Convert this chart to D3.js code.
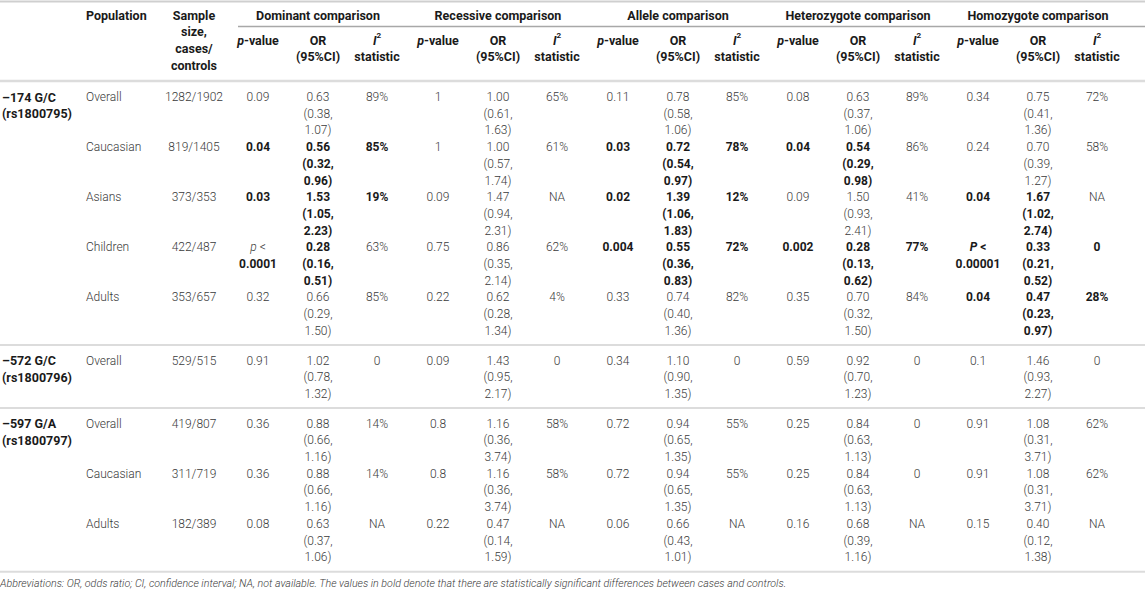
<!DOCTYPE html>
<html>
<head>
<meta charset="utf-8">
<script src="https://cdn.jsdelivr.net/npm/d3@7"></script>
<style>
  body { margin: 0; background: #fff; }
  svg { display: block; }
  text { font-family: Roboto, "Liberation Sans", sans-serif; }
</style>
</head>
<body>
<script>
// table content
var snpLabels = [["–174 G/C", "(rs1800795)"], ["–572 G/C", "(rs1800796)"], ["–597 G/A", "(rs1800797)"]];
var snpRowCount = [5, 1, 3];
var populations = ["Overall", "Caucasian", "Asians", "Children", "Adults", "Overall", "Overall", "Caucasian", "Adults"];
var sampleSizes = ["1282/1902", "819/1405", "373/353", "422/487", "353/657", "529/515", "419/807", "311/719", "182/389"];
var comparisons = ["Dominant comparison", "Recessive comparison", "Allele comparison", "Heterozygote comparison", "Homozygote comparison"];

var dominantP = ["0.09", "0.04", "0.03", "p < 0.0001", "0.32", "0.91", "0.36", "0.36", "0.08"];
var dominantOR = [[0.63, 0.38, 1.07], [0.56, 0.32, 0.96], [1.53, 1.05, 2.23], [0.28, 0.16, 0.51], [0.66, 0.29, 1.50], [1.02, 0.78, 1.32], [0.88, 0.66, 1.16], [0.88, 0.66, 1.16], [0.63, 0.37, 1.06]];
var dominantI2 = ["89%", "85%", "19%", "63%", "85%", "0", "14%", "14%", "NA"];
var dominantBold = [[0, 0, 0], [1, 1, 1], [1, 1, 1], [1, 1, 0], [0, 0, 0], [0, 0, 0], [0, 0, 0], [0, 0, 0], [0, 0, 0]];

var recessiveP = ["1", "1", "0.09", "0.75", "0.22", "0.09", "0.8", "0.8", "0.22"];
var recessiveOR = [[1.00, 0.61, 1.63], [1.00, 0.57, 1.74], [1.47, 0.94, 2.31], [0.86, 0.35, 2.14], [0.62, 0.28, 1.34], [1.43, 0.95, 2.17], [1.16, 0.36, 3.74], [1.16, 0.36, 3.74], [0.47, 0.14, 1.59]];
var recessiveI2 = ["65%", "61%", "NA", "62%", "4%", "0", "58%", "58%", "NA"];
var recessiveBold = [[0, 0, 0], [0, 0, 0], [0, 0, 0], [0, 0, 0], [0, 0, 0], [0, 0, 0], [0, 0, 0], [0, 0, 0], [0, 0, 0]];

var alleleP = ["0.11", "0.03", "0.02", "0.004", "0.33", "0.34", "0.72", "0.72", "0.06"];
var alleleOR = [[0.78, 0.58, 1.06], [0.72, 0.54, 0.97], [1.39, 1.06, 1.83], [0.55, 0.36, 0.83], [0.74, 0.40, 1.36], [1.10, 0.90, 1.35], [0.94, 0.65, 1.35], [0.94, 0.65, 1.35], [0.66, 0.43, 1.01]];
var alleleI2 = ["85%", "78%", "12%", "72%", "82%", "0", "55%", "55%", "NA"];
var alleleBold = [[0, 0, 0], [1, 1, 1], [1, 1, 1], [1, 1, 1], [0, 0, 0], [0, 0, 0], [0, 0, 0], [0, 0, 0], [0, 0, 0]];

var heteroP = ["0.08", "0.04", "0.09", "0.002", "0.35", "0.59", "0.25", "0.25", "0.16"];
var heteroOR = [[0.63, 0.37, 1.06], [0.54, 0.29, 0.98], [1.50, 0.93, 2.41], [0.28, 0.13, 0.62], [0.70, 0.32, 1.50], [0.92, 0.70, 1.23], [0.84, 0.63, 1.13], [0.84, 0.63, 1.13], [0.68, 0.39, 1.16]];
var heteroI2 = ["89%", "86%", "41%", "77%", "84%", "0", "0", "0", "NA"];
var heteroBold = [[0, 0, 0], [1, 1, 0], [0, 0, 0], [1, 1, 1], [0, 0, 0], [0, 0, 0], [0, 0, 0], [0, 0, 0], [0, 0, 0]];

var homoP = ["0.34", "0.24", "0.04", "P < 0.00001", "0.04", "0.1", "0.91", "0.91", "0.15"];
var homoOR = [[0.75, 0.41, 1.36], [0.70, 0.39, 1.27], [1.67, 1.02, 2.74], [0.33, 0.21, 0.52], [0.47, 0.23, 0.97], [1.46, 0.93, 2.27], [1.08, 0.31, 3.71], [1.08, 0.31, 3.71], [0.40, 0.12, 1.38]];
var homoI2 = ["72%", "58%", "NA", "0", "28%", "0", "62%", "62%", "NA"];
var homoBold = [[0, 0, 0], [0, 0, 0], [1, 1, 0], [1, 1, 1], [1, 1, 1], [0, 0, 0], [0, 0, 0], [0, 0, 0], [0, 0, 0]];

var footnote = "Abbreviations: OR, odds ratio; CI, confidence interval; NA, not available. The values in bold denote that there are statistically significant differences between cases and controls.";

var groupP = [dominantP, recessiveP, alleleP, heteroP, homoP];
var groupOR = [dominantOR, recessiveOR, alleleOR, heteroOR, homoOR];
var groupI2 = [dominantI2, recessiveI2, alleleI2, heteroI2, homoI2];
var groupBold = [dominantBold, recessiveBold, alleleBold, heteroBold, homoBold];

var width = 1145, height = 592;
var fontSize = 12, headSize = 12.5;
var lineH = 16.7;
var lightColor = "#3a3a3a", boldColor = "#1a1a1a", ruleColor = "#dcdcdc";

var svg = d3.select("body").append("svg").attr("width", width).attr("height", height);

// column scales
var groupX = d3.scaleBand().domain(comparisons).range([230, 1130]);
var subX = d3.scaleOrdinal().domain(["p", "or", "i2"]).range([28, 88, 147]);
var colX = function (c, sub) { return groupX(comparisons[c]) + subX(sub); };
var snpX = 2, popX = 86, sampleX = 194;

// row scale: line index -> y, plus a gap per section
var sectionGap = 13 / lineH;
var y = d3.scaleLinear().domain([0, 1]).range([97, 97 + lineH]);

var fmt = d3.format(".2f");

// draw a multi-line cell; lines is an array of span arrays
function cell(x, y0, lines, anchor, size) {
    var fs = size || fontSize;
    var t = svg.append("text")
        .attr("x", x)
        .attr("text-anchor", anchor || "middle")
        .attr("font-size", fs);
    lines.forEach(function (spans, i) {
        var line = t.append("tspan").attr("x", x).attr("y", y0 + i * lineH).attr("dominant-baseline", "central");
        spans.forEach(function (s) {
            var ts = line.append("tspan")
                .text(s.t)
                .attr("font-weight", s.bold ? 700 : 300)
                .attr("fill", s.bold ? boldColor : lightColor)
                .attr("font-style", s.italic ? "italic" : "normal");
            if (s.sup) ts.attr("font-size", fs * 0.65).attr("dy", -5);
        });
    });
    return t;
}

function span(t, bold, italic) { return {t: t, bold: bold, italic: italic}; }

function pLines(v, bold) {
    if (v.indexOf("<") >= 0) {
        var parts = v.split(" < ");
        var capital = parts[0] === "P";
        return [[span(parts[0], capital && bold, true), span(" <", capital && bold)], [span(parts[1], bold)]];
    }
    return [[span(v, bold)]];
}

// rules
function rule(yy, x0, x1, color, w) {
    svg.append("line").attr("x1", x0).attr("x2", x1).attr("y1", yy).attr("y2", yy)
        .attr("stroke", color).attr("stroke-width", w);
}
rule(1.5, 0, width, "#cfcfcf", 2);
rule(26.5, 238, width, "#a8a8a8", 1.5);
rule(81, 0, width, ruleColor, 2.5);

// header
var hb = function (t) { return [span(t, true)]; };
cell(popX, 15, [hb("Population")], "start", headSize);
cell(sampleX, 15, [hb("Sample"), hb("size,"), hb("cases/"), hb("controls")], "middle", headSize);
comparisons.forEach(function (name, c) {
    cell(colX(c, "or"), 15, [hb(name)], "middle", headSize);
    cell(colX(c, "p"), 40, [[span("p", true, true), span("-value", true)]], "middle", headSize);
    cell(colX(c, "or"), 40, [hb("OR"), hb("(95%CI)")], "middle", headSize);
    cell(colX(c, "i2"), 40, [[span("I", true, true), {t: "2", bold: true, sup: true}], hb("statistic")], "middle", headSize);
});

// body
var row = 0;
snpLabels.forEach(function (label, s) {
    var firstLine = row * 3;
    var sectionTop = y(firstLine + s * sectionGap);
    if (s > 0) rule(sectionTop - 15.5, 0, width, ruleColor, 2);
    cell(snpX, sectionTop, [hb(label[0]), hb(label[1])], "start", headSize);
    for (var k = 0; k < snpRowCount[s]; k++) {
        var r = row + k;
        var yy = y(r * 3 + s * sectionGap);
        cell(popX, yy, [[span(populations[r])]], "start");
        cell(sampleX, yy, [[span(sampleSizes[r])]]);
        for (var c = 0; c < comparisons.length; c++) {
            var b = groupBold[c][r];
            var or = groupOR[c][r];
            cell(colX(c, "p"), yy, pLines(groupP[c][r], b[0]));
            cell(colX(c, "or"), yy, [[span(fmt(or[0]), b[1])], [span("(" + fmt(or[1]) + ",", b[1])], [span(fmt(or[2]) + ")", b[1])]]);
            cell(colX(c, "i2"), yy, [[span(groupI2[c][r], b[2])]]);
        }
    }
    row += snpRowCount[s];
});
var lastLine = y((row - 1) * 3 + 2 + (snpLabels.length - 1) * sectionGap);
rule(lastLine + 14.6, 0, width, ruleColor, 2);

// footnote
var note = svg.append("text")
    .attr("x", 0).attr("y", lastLine + 26)
    .attr("dominant-baseline", "central")
    .attr("font-size", 11)
    .attr("font-style", "italic")
    .attr("font-weight", 300)
    .attr("fill", lightColor)
    .text(footnote);
var len = note.node().getComputedTextLength();
note.attr("font-size", 11 * 787 / len);
</script>
</body>
</html>
